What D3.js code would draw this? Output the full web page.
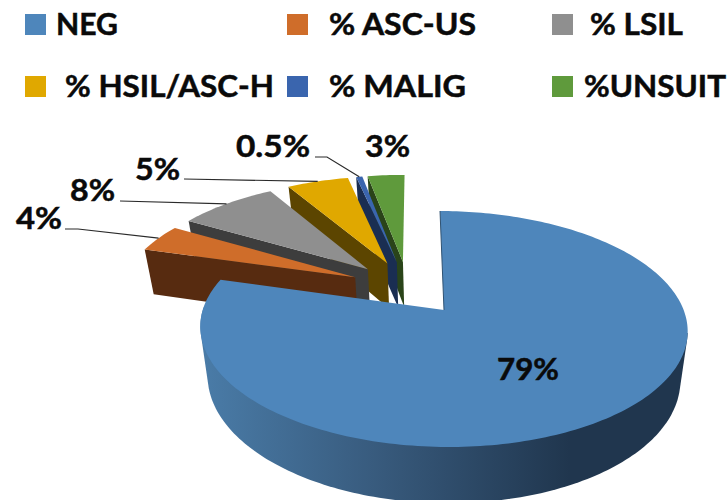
<!DOCTYPE html>
<html>
<head>
<meta charset="utf-8">
<script src="https://cdn.jsdelivr.net/npm/d3@7"></script>
<style>
  html, body { margin: 0; padding: 0; background: #fff; }
  svg { display: block; }
  text { font-family: Lato, "Noto Sans", sans-serif; font-weight: 700; fill: #0a0a0a; stroke: #0a0a0a; stroke-width: 0.5px; }
</style>
</head>
<body>
<svg id="chart" width="728" height="500"></svg>
<script>
// Cytology result shares, in percent
const categories = ["NEG", "% ASC-US", "% LSIL", "% HSIL/ASC-H", "% MALIG", "%UNSUIT"];
const values = [79, 4, 8, 5, 0.5, 3];
const valueLabels = ["79%", "4%", "8%", "5%", "0.5%", "3%"];

// Face and side colours per category
const topColors = ["#4e86bb", "#cf6d2a", "#8f8f8f", "#e0a800", "#3a65ae", "#5f9a3c"];
const wallColors = ["#2f5272", "#572b10", "#3d3d3d", "#5c4500", "#1a2e52", "#2a4419"];

// Legend layout: [swatch x, text x, text width, row]
const legendLayout = [
  [25, 56, 62, 0], [287, 329, 147, 0], [552, 590, 93, 0],
  [25, 65, 209, 1], [287, 329, 137, 1], [552, 584, 142, 1]
];
const legendRows = [14, 76];

// Value label boxes: [left, baseline, width] and the leader's start, if any
const labelLayout = [
  [497, 380, 62], [16, 229, 46], [70, 201, 45], [135, 180, 45], [236, 157, 74], [365, 157, 45]
];
const leaderStarts = [null, [[65, 229], [78, 229]], [[120, 201]], [[184, 179]], [[315, 157], [327, 157]], null];

// Perspective model of the tilted disc
const perspective = 0.161, bottomScaleX = 0.97, bottomScaleY = 1.06, depth = 48, tilt = 0.01, explode = 0.25;
const startAngle = -1.1 * Math.PI / 180;
const cx = 444, cy = 310, radiusX = 240.5, radiusY = 114.9;
const wallFrom = 100 * Math.PI / 180, wallTo = 270 * Math.PI / 180;

const xScale = d3.scaleLinear().domain([-1, 1]).range([cx - radiusX, cx + radiusX]);
const yScale = d3.scaleLinear().domain([-1, 1]).range([cy - radiusY, cy + radiusY]);

function project(u, v, z) {
  const w = 1 - perspective * v;
  let x = xScale(u / w), y = yScale(v / w);
  if (z) {
    x = cx + (x - cx) * bottomScaleX;
    y = cy + (y - cy) * bottomScaleY + depth;
  }
  return [x, y + tilt * (x - cx)];
}

const pie = d3.pie().sort(null).startAngle(startAngle).endAngle(startAngle + 2 * Math.PI);
const slices = pie(values);
const direction = a => [Math.sin(a), -Math.cos(a)];

// Every slice is pulled out of the shared centre; disc coordinates put the big slice's tip at the origin
const bigMid = direction((slices[0].startAngle + slices[0].endAngle) / 2);
const origin = [-explode * bigMid[0], -explode * bigMid[1]];

function tip(s) {
  const d = direction((s.startAngle + s.endAngle) / 2);
  return [origin[0] + explode * d[0], origin[1] + explode * d[1]];
}
function rimPoint(s, a, z) {
  const t = tip(s), d = direction(a);
  return project(t[0] + d[0], t[1] + d[1], z);
}
function rim(s, z, from, to) {
  const a0 = from === undefined ? s.startAngle : from;
  const a1 = to === undefined ? s.endAngle : to;
  const n = Math.max(2, Math.ceil((a1 - a0) / 0.02));
  return d3.range(n + 1).map(i => rimPoint(s, a0 + (a1 - a0) * i / n, z));
}

const line = d3.line();
const svg = d3.select("#chart");

// Side shading of the large slice fades from mid blue to navy
const gradient = svg.append("defs").append("linearGradient")
  .attr("id", "bigWall").attr("gradientUnits", "userSpaceOnUse")
  .attr("x1", 200).attr("x2", 570).attr("y1", 0).attr("y2", 0);
gradient.append("stop").attr("offset", 0).attr("stop-color", "#4a7ca8");
gradient.append("stop").attr("offset", 0.5).attr("stop-color", "#37597b");
gradient.append("stop").attr("offset", 1).attr("stop-color", "#20364e");

const pieLayer = svg.append("g");

// Painted back to front so nearer slices cover farther ones
d3.range(slices.length - 1, -1, -1).forEach(i => {
  const s = slices[i];
  const t = tip(s);
  const g = pieLayer.append("g");

  if (i === 0) {
    // The convex hull of both rims gives the rounded side of the large slice
    const hull = d3.polygonHull(rim(s, 0, wallFrom, wallTo).concat(rim(s, 1, wallFrom, wallTo)));
    g.append("path").attr("d", line(hull) + "Z").attr("fill", "url(#bigWall)");
  } else {
    const a = direction(s.startAngle);
    const wall = [
      project(t[0] + a[0], t[1] + a[1], 0),
      project(t[0], t[1], 0),
      project(t[0], t[1], 1),
      project(t[0] + a[0], t[1] + a[1], 1)
    ];
    g.append("path").attr("d", line(wall) + "Z").attr("fill", wallColors[i]);
  }

  const face = [project(t[0], t[1], 0)].concat(rim(s, 0));
  g.append("path").attr("d", line(face) + "Z").attr("fill", topColors[i]);

  if (i === 0) {
    // Thin shaded edge along the straight side of the large slice
    g.append("path")
      .attr("d", line([face[0], face[1]]))
      .attr("fill", "none").attr("stroke", "#2f5272").attr("stroke-width", 1);
  }
});

// Leader lines run from the labels to the middle of each slice's rim
slices.forEach((s, i) => {
  if (!leaderStarts[i]) return;
  const end = rimPoint(s, (s.startAngle + s.endAngle) / 2, 0);
  svg.append("path")
    .attr("d", line(leaderStarts[i].concat([end])))
    .attr("fill", "none").attr("stroke", "#2a2a2a").attr("stroke-width", 1.2);
});

// Value labels
labelLayout.forEach((b, i) => {
  svg.append("text")
    .attr("x", b[0]).attr("y", b[1])
    .attr("font-size", 31)
    .attr("textLength", b[2]).attr("lengthAdjust", "spacingAndGlyphs")
    .text(valueLabels[i]);
});

// Legend
categories.forEach((name, i) => {
  const l = legendLayout[i], y = legendRows[l[3]];
  svg.append("rect")
    .attr("x", l[0]).attr("y", y).attr("width", 21).attr("height", 21)
    .attr("fill", topColors[i]);
  svg.append("text")
    .attr("x", l[1]).attr("y", y + 21)
    .attr("font-size", 30)
    .attr("textLength", l[2]).attr("lengthAdjust", "spacingAndGlyphs")
    .text(name);
});
</script>
</body>
</html>
